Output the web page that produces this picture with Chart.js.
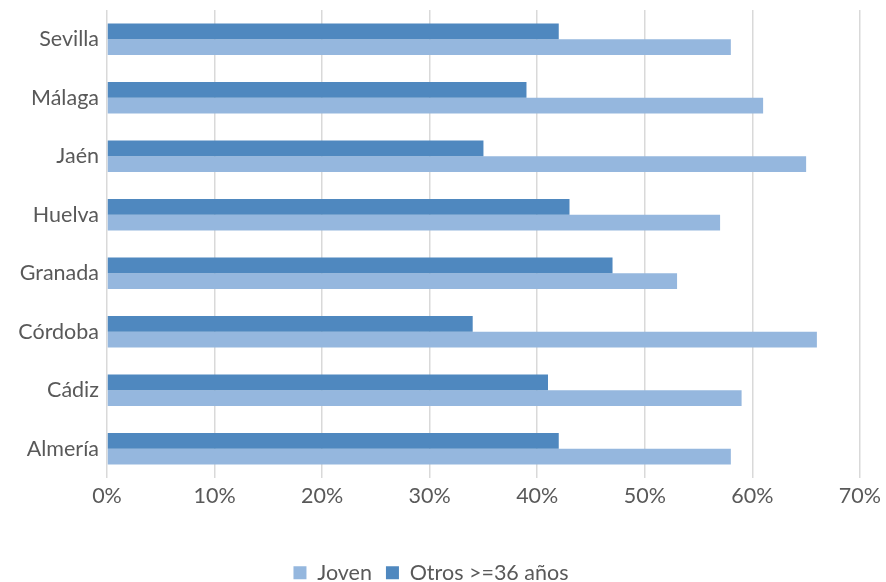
<!DOCTYPE html>
<html>
<head>
<meta charset="utf-8">
<script src="https://cdn.jsdelivr.net/npm/chart.js@4.4.0/dist/chart.umd.min.js"></script>
<style>
  html, body { margin: 0; padding: 0; background: #fff; }
  #wrap { width: 886px; height: 582px; }
</style>
</head>
<body>
<div id="wrap"><canvas id="chart" width="886" height="582"></canvas></div>
<script>
// datos por provincia (%)
const provincias = ["Sevilla", "Málaga", "Jaén", "Huelva", "Granada", "Córdoba", "Cádiz", "Almería"];
const joven = [58, 61, 65, 57, 53, 66, 59, 58];
const otros = [42, 39, 35, 43, 47, 34, 41, 42];
const xTicks = [0, 10, 20, 30, 40, 50, 60, 70];

const fuente = "Lato, 'Open Sans', sans-serif";
const gris = "#595959";

// leyenda más baja: recorta su alto
const ajusteLeyenda = {
  id: "ajusteLeyenda",
  afterInit(chart) {
    const leg = chart.legend;
    if (!leg) return;
    const fitOrig = leg.fit;
    leg.fit = function () {
      fitOrig.call(this);
      this.height = 34;
    };
  },
};

const ctx = document.getElementById("chart").getContext("2d");
new Chart(ctx, {
  type: "bar",
  data: {
    labels: provincias,
    datasets: [
      {
        label: "Otros >=36 años",
        data: otros,
        backgroundColor: "#4F88BF",
        borderWidth: 0,
      },
      {
        label: "Joven",
        data: joven,
        backgroundColor: "#95B7DE",
        borderWidth: 0,
      },
    ],
  },
  options: {
    indexAxis: "y",
    responsive: false,
    animation: false,
    datasets: {
      bar: { categoryPercentage: 0.54, barPercentage: 1.0 },
    },
    layout: { padding: { top: 10, right: 24, left: 0, bottom: 0 } },
    scales: {
      x: {
        min: 0,
        max: 70,
        afterBuildTicks: (axis) => { axis.ticks = xTicks.map((v) => ({ value: v })); },
        afterFit: (axis) => { axis.height = 70; },
        grid: { color: "#D9D9D9", lineWidth: 1.5, drawTicks: false },
        border: { display: false },
        ticks: {
          padding: 5,
          color: gris,
          font: { family: fuente, size: 21.5 },
          callback: (v) => v + "%",
        },
      },
      y: {
        afterFit: (axis) => {
          axis.width = 107;
          axis.paddingTop = 0;
          axis.paddingBottom = 0;
        },
        grid: { display: false, drawTicks: false },
        border: { display: false },
        ticks: {
          padding: 8,
          color: gris,
          font: { family: fuente, size: 21.5 },
        },
      },
    },
    plugins: {
      tooltip: { enabled: false },
      legend: {
        position: "bottom",
        reverse: true,
        labels: {
          boxWidth: 13,
          boxHeight: 13,
          padding: 14,
          color: gris,
          font: { family: fuente, size: 21.5 },
        },
      },
    },
  },
  plugins: [ajusteLeyenda],
});
</script>
</body>
</html>
